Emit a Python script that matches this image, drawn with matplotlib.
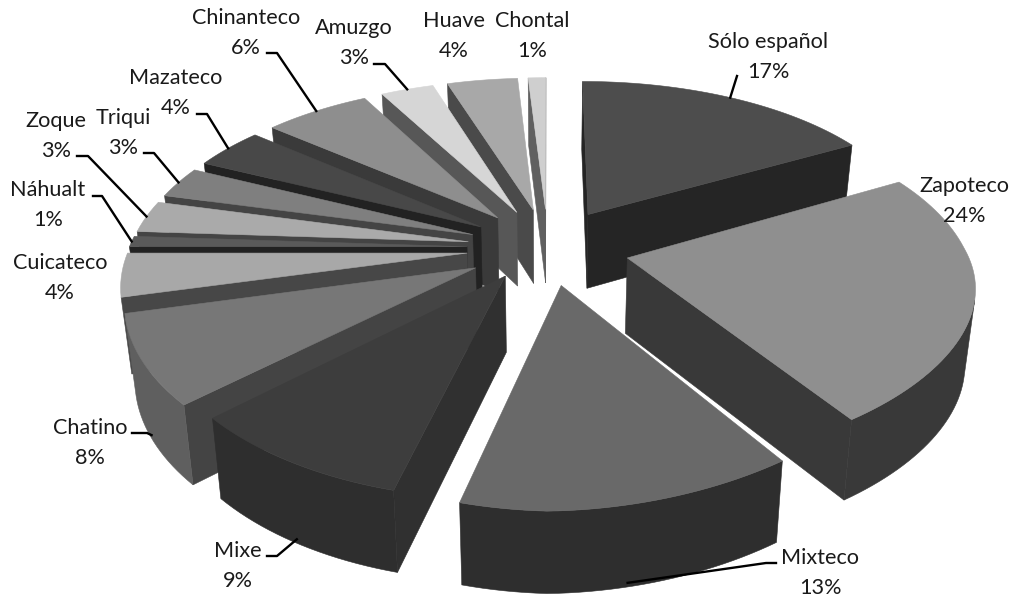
import numpy as np
import matplotlib
matplotlib.use('Agg')
import matplotlib.pyplot as plt
from matplotlib.patches import Polygon

# lenguas, en el orden del pastel (sentido horario desde las 12)
lenguas = ['Sólo español', 'Zapoteco', 'Mixteco', 'Mixe', 'Chatino', 'Cuicateco', 'Náhualt',
           'Zoque', 'Triqui', 'Mazateco', 'Chinanteco', 'Amuzgo', 'Huave', 'Chontal']
porcentajes = [17, 24, 13, 9, 8, 4, 1, 3, 3, 4, 6, 3, 4, 1]

# colores: cara superior, pared exterior, pared radial
c_top = ['#4d4d4d', '#8f8f8f', '#696969', '#3d3d3d', '#777777', '#a8a8a8', '#5a5a5a',
         '#aaaaaa', '#7f7f7f', '#484848', '#8e8e8e', '#d6d6d6', '#a8a8a8', '#cfcfcf']
c_out = ['#2a2a2a', '#393939', '#2e2e2e', '#2e2e2e', '#5f5f5f', '#555555', '#333333',
         '#555555', '#555555', '#333333', '#444444', '#666666', '#555555', '#666666']
c_rad = ['#252525', '#393939', '#2d2d2d', '#303030', '#444444', '#474747', '#222222',
         '#444444', '#444444', '#222222', '#3a3a3a', '#575757', '#4a4a4a', '#606060']

# posicion del centro del texto de cada etiqueta, en pixeles
pos_etiqueta = [(768, 57), (964, 201), (820, 573), (238, 566), (90, 443), (60, 278), (48, 205),
                (56, 136), (123, 133), (176, 93), (246, 33), (354, 43), (454, 36), (532, 36)]
# inicio del trazo guia (None = sin guia)
guia = [[(737, 76)], None, [(776, 563), (766, 563)], [(267, 556), (277, 556)], [(132, 433), (147, 433)], None,
        [(93, 196), (102, 196)], [(77, 156), (88, 156)], [(144, 153), (154, 153)], [(197, 114), (207, 114)],
        [(267, 53), (277, 53)], [(374, 64), (385, 64)], None, None]

cx, cy = 548, 248
a, b = 338, 168   # semiejes
k = 0.18          # perspectiva vertical
kx = 0.16         # perspectiva horizontal
explosion = 0.24
alto = 75
# ajuste vertical de Mixteco y Mixe, que en el original quedan mas arriba
ajuste = {2: -4, 3: -8}


def proy(i, X, Y, z=0.0):
    y = cy - b * Y / (1 + k * Y) + alto * (1 - 0.08 * Y) * z + ajuste.get(i, 0)
    if X > 0 and Y < 0:
        y -= 14 * X * (-Y)
    return cx + a * X / (1 + kx * Y) * (1 - 0.025 * z), y


def cuna(ini, fin):
    med = (ini + fin) / 2
    ox, oy = explosion * np.sin(med), explosion * np.cos(med)
    t = np.linspace(ini, fin, max(4, int((fin - ini) * 40)))
    return ox, oy, t


def area(p):
    p = np.array(p)
    x, y = p[:, 0], p[:, 1]
    return np.sum(x * np.roll(y, -1) - np.roll(x, -1) * y)


fig = plt.figure(figsize=(10.16, 5.98), dpi=100)
ax = fig.add_axes([0, 0, 1, 1])
ax.set_xlim(0, 1016)
ax.set_ylim(598, 0)
ax.axis('off')

frac = np.array(porcentajes) / sum(porcentajes)
lim = np.concatenate([[0], np.cumsum(frac)]) * 2 * np.pi
medios = (lim[:-1] + lim[1:]) / 2

# de atras hacia adelante
orden = np.argsort(-np.cos(medios))


def cara(pts, color, z):
    ax.add_patch(Polygon(pts, closed=True, facecolor=color, edgecolor=color, lw=0.4, zorder=z))


z = 1
for i in orden:
    ox, oy, t = cuna(lim[i], lim[i + 1])
    Xr = ox + np.sin(t)
    Yr = oy + np.cos(t)
    # paredes radiales
    for xr, yr, signo in [(Xr[0], Yr[0], 1), (Xr[-1], Yr[-1], -1)]:
        q = [proy(i, ox, oy), proy(i, xr, yr), proy(i, xr, yr, 1), proy(i, ox, oy, 1)]
        if area(q) * signo < 0:
            cara(q, c_rad[i], z)
    # pared exterior, solo los tramos que miran al frente
    arriba, abajo = [], []
    for j in range(len(t) - 1):
        q = [proy(i, Xr[j], Yr[j]), proy(i, Xr[j + 1], Yr[j + 1]),
             proy(i, Xr[j + 1], Yr[j + 1], 1), proy(i, Xr[j], Yr[j], 1)]
        if area(q) < 0:
            arriba += q[:2]
            abajo += [q[3], q[2]]
    if arriba:
        cara(arriba + abajo[::-1], c_out[i], z + 0.2)
    top = [proy(i, ox, oy)] + [proy(i, x, y) for x, y in zip(Xr, Yr)]
    cara(top, c_top[i], z + 0.5)
    z += 1

# etiquetas
for i, nom in enumerate(lenguas):
    px, py = pos_etiqueta[i]
    ax.text(px, py, f'{nom}\n{porcentajes[i]}%', ha='center', va='center', fontsize=15.6,
            family='Lato', color='#1a1a1a', linespacing=1.6, zorder=50)
    if guia[i]:
        m = medios[i]
        Xm = (1 + explosion) * np.sin(m)
        Ym = (1 + explosion) * np.cos(m)
        fin = proy(i, Xm, Ym, 0.95 if Ym < -0.3 else 0)
        xs = [p[0] for p in guia[i]] + [fin[0]]
        ys = [p[1] for p in guia[i]] + [fin[1]]
        ax.plot(xs, ys, color='black', lw=1.7, zorder=49)

fig.savefig('out.png', dpi=100)
